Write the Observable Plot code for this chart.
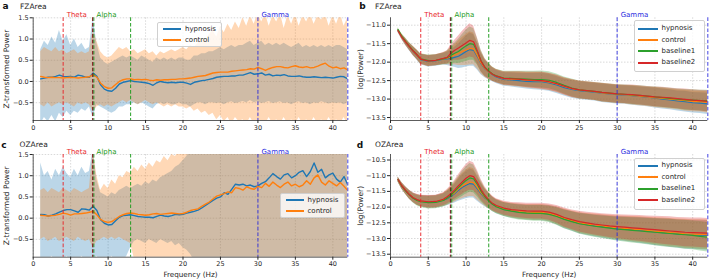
<!DOCTYPE html>
<html><head><meta charset="utf-8">
<script src="https://cdn.jsdelivr.net/npm/d3@7"></script>
<script src="https://cdn.jsdelivr.net/npm/@observablehq/plot@0.6"></script>
<style>
body{margin:0;background:#fff;}
#fig{position:relative;width:709px;height:280px;overflow:hidden;font-family:"DejaVu Sans",sans-serif;background:#fff;}
.panel{position:absolute;}
.legend{position:absolute;box-sizing:border-box;background:rgba(255,255,255,0.8);border:0.8px solid #d0d0d0;border-radius:2px;}
.legend .sw{position:absolute;height:2px;}
.legend .lb{position:absolute;font-size:7px;line-height:7px;color:#262626;white-space:nowrap;transform:translateY(-50%);}
</style></head>
<body><div id="fig"></div>
<script>
// ---------- data ----------
const freqA = d3.range(1, 42.001, 0.5); // 0.5 Hz bins, panels a & c
const freqB = [1,1.5,2,2.5,3,3.5,4,5,6,7,7.5,8,8.5,9,9.5,10,10.5,11,11.5,12,12.5,13,13.5,14,15,16,17,18,19,20,21,22,23,24,25,26,27,28,29,30,31,32,33,34,35,36,37,38,39,40,41,42];
const xTicks = [0,5,10,15,20,25,30,35,40];
const zTicks = [-0.5,0,0.5,1,1.5];
const logTicksB = [-13.5,-13,-12.5,-12,-11.5,-11];
const logTicksD = [-13.5,-13,-12.5,-12,-11.5,-11,-10.5];

const bandNames = ["Theta","Alpha","Gamma"];
const bandLo = [4,8,30];
const bandHi = [8,13,42];
const bandColors = ["#e8262a","#1a9a1a","#2a2ae0"];

const seriesNames = ["hypnosis","control","baseline1","baseline2"];
const seriesColors = ["#1f77b4","#ff7f0e","#2ca02c","#d62728"];

// panel a (FZArea, z-transformed)
const hypA = [0.06,0.08,0.10,0.10,0.12,0.15,0.12,0.11,0.12,0.10, 0.15,0.13,0.10,0.10,0.20,0.12,-0.08,-0.18,-0.22,-0.23, -0.16,-0.06,-0.02,0.00,0.02,0.00,-0.01,-0.02,-0.03,-0.05, -0.09,-0.03,0.00,-0.02,-0.03,-0.02,-0.03,-0.02,-0.02,-0.04, -0.07,-0.02,0.00,0.02,0.03,0.05,0.07,0.10,0.11,0.12, 0.12,0.13,0.13,0.15,0.15,0.18,0.21,0.17,0.18,0.20, 0.15,0.17,0.13,0.15,0.14,0.16,0.13,0.12,0.12,0.13, 0.11,0.10,0.10,0.11,0.10,0.09,0.10,0.09,0.08,0.10, 0.12,0.11,0.06];
const ctlA = [0.12,0.10,0.09,0.10,0.09,0.09,0.08,0.09,0.10,0.09, 0.08,0.09,0.10,0.11,0.16,0.10,-0.04,-0.12,-0.16,-0.15, -0.07,0.00,0.04,0.06,0.06,0.04,0.05,0.04,0.05,0.03, 0.02,0.04,0.03,0.04,0.04,0.05,0.05,0.06,0.06,0.07, 0.08,0.10,0.12,0.13,0.14,0.17,0.20,0.21,0.22,0.22, 0.22,0.24,0.25,0.26,0.27,0.28,0.30,0.29,0.33,0.30, 0.26,0.30,0.33,0.35,0.35,0.33,0.32,0.35,0.37,0.34, 0.33,0.35,0.32,0.33,0.36,0.40,0.43,0.36,0.32,0.34, 0.30,0.32,0.27];
const hypAHi = [0.75,0.95,0.85,1.05,0.90,1.20,0.95,1.10,0.85,1.00, 0.80,0.90,0.75,0.80,1.50,0.90,0.55,0.45,0.40,0.45, 0.50,0.55,0.60,0.55,0.60,0.55,0.50,0.60,0.55,0.50, 0.45,0.55,0.50,0.55,0.50,0.55,0.50,0.55,0.55,0.50, 0.50,0.60,0.60,0.65,0.65,0.70,0.70,0.75,0.80,0.75, 0.80,0.85,0.80,0.85,0.85,0.90,0.95,0.85,0.90,0.95, 0.85,0.90,0.85,0.90,0.85,0.90,0.85,0.80,0.85,0.90, 0.80,0.85,0.80,0.85,0.80,0.85,0.80,0.85,0.80,0.85, 0.85,0.80,0.75];
const hypALo = [-1.00,-0.85,-0.95,-0.80,-0.95,-0.75,-0.85,-0.70,-0.80,-0.70, -0.75,-0.65,-0.70,-0.60,-0.85,-0.55,-0.60,-0.65,-0.70,-0.75, -0.70,-0.60,-0.60,-0.55,-0.55,-0.50,-0.55,-0.50,-0.55,-0.60, -0.65,-0.55,-0.50,-0.55,-0.50,-0.55,-0.55,-0.50,-0.55,-0.55, -0.60,-0.55,-0.50,-0.50,-0.55,-0.50,-0.50,-0.52,-0.50,-0.55, -0.50,-0.48,-0.52,-0.50,-0.47,-0.50,-0.45,-0.50,-0.48,-0.52, -0.50,-0.47,-0.52,-0.50,-0.48,-0.52,-0.50,-0.55,-0.50,-0.48, -0.52,-0.50,-0.55,-0.50,-0.52,-0.48,-0.50,-0.53,-0.50,-0.52, -0.50,-0.55,-0.50];
const ctlAHi = [0.70,0.80,0.75,0.70,0.80,0.70,0.75,0.65,0.70,0.75, 0.65,0.70,0.65,0.70,1.20,0.95,0.70,0.60,0.55,0.60, 0.70,0.80,0.75,0.80,0.70,0.75,0.65,0.70,0.75,0.65, 0.70,0.60,0.70,0.65,0.70,0.75,0.70,0.75,0.80,0.75, 0.85,0.80,0.90,1.00,0.95,1.10,1.20,1.05,1.30,1.15, 1.35,1.20,1.40,1.25,1.50,1.30,1.55,1.35,1.60,1.40, 1.60,1.30,1.55,1.40,1.60,1.25,1.55,1.35,1.60,1.30, 1.55,1.40,1.60,1.35,1.55,1.45,1.60,1.30,1.55,1.35, 1.60,1.30,1.50];
const ctlALo = [-0.55,-0.60,-0.50,-0.60,-0.55,-0.50,-0.55,-0.50,-0.55,-0.60, -0.50,-0.55,-0.50,-0.55,-0.70,-0.60,-0.55,-0.60,-0.55,-0.60, -0.55,-0.50,-0.45,-0.50,-0.45,-0.50,-0.55,-0.50,-0.45,-0.50, -0.55,-0.50,-0.55,-0.60,-0.55,-0.60,-0.55,-0.60,-0.60,-0.65, -0.60,-0.70,-0.65,-0.75,-0.70,-0.80,-0.75,-0.90,-0.80,-0.95, -0.85,-1.00,-0.85,-0.95,-0.90,-1.00,-0.85,-1.00,-0.90,-0.95, -1.00,-0.85,-1.00,-0.90,-1.00,-0.85,-1.00,-0.90,-1.00,-0.85, -1.00,-0.90,-1.00,-0.85,-1.00,-0.90,-1.00,-0.85,-1.00,-0.90, -1.00,-0.85,-1.00];

// panel c (OZArea, z-transformed)
const hypC = [0.09,0.08,0.05,0.07,0.10,0.14,0.18,0.20,0.20,0.17, 0.14,0.22,0.21,0.19,0.28,0.18,-0.04,-0.12,-0.16,-0.15, -0.06,0.02,0.06,0.07,0.08,0.06,0.04,0.03,0.02,0.02, 0.01,0.04,0.07,0.05,0.04,0.06,0.09,0.08,0.09,0.12, 0.14,0.16,0.19,0.24,0.30,0.36,0.42,0.47,0.50,0.60, 0.56,0.68,0.80,0.78,0.80,0.76,0.78,0.74,0.76,0.82, 0.86,0.95,1.05,0.98,0.92,1.02,1.05,0.95,1.00,1.08, 1.12,0.98,1.10,1.30,1.08,1.15,0.95,1.02,1.06,0.92, 0.85,0.98,0.78];
const ctlC = [0.07,0.06,0.05,0.06,0.07,0.09,0.12,0.10,0.07,0.10, 0.10,0.11,0.12,0.14,0.16,0.08,-0.03,-0.08,-0.10,-0.08, -0.02,0.04,0.08,0.11,0.12,0.11,0.09,0.08,0.07,0.08, 0.10,0.11,0.09,0.10,0.11,0.12,0.11,0.10,0.11,0.14, 0.18,0.20,0.22,0.28,0.33,0.38,0.45,0.52,0.55,0.58, 0.62,0.60,0.72,0.70,0.66,0.74,0.70,0.68,0.75,0.72, 0.82,0.75,0.85,0.78,0.72,0.80,0.85,0.76,0.80,0.74, 0.78,0.88,0.80,0.95,1.02,0.85,0.78,0.88,0.82,0.76, 0.84,0.75,0.65];
const hypCHi = [1.30,1.00,1.10,0.90,1.15,1.00,1.20,1.05,0.95,1.15, 1.00,1.20,1.05,1.10,1.60,0.90,0.60,0.55,0.50,0.60, 0.55,0.65,0.70,0.75,0.70,0.75,0.80,0.75,0.85,0.80, 0.90,0.85,0.95,1.00,1.05,1.10,1.20,1.25,1.35,1.45, 1.60,1.70,1.70,1.70,1.70,1.70,1.70,1.70,1.70,1.70, 1.70,1.70,1.70,1.70,1.70,1.70,1.70,1.70,1.70,1.70, 1.70,1.70,1.70,1.70,1.70,1.70,1.70,1.70,1.70,1.70, 1.70,1.70,1.70,1.70,1.70,1.70,1.70,1.70,1.70,1.70, 1.70,1.70,1.70];
const hypCLo = [-1.00,-0.95,-1.00,-0.90,-1.00,-0.95,-1.00,-0.90,-1.00,-0.95, -1.00,-0.90,-1.00,-0.95,-1.00,-0.90,-1.00,-0.95,-1.00,-0.90, -1.00,-0.95,-1.00,-0.90,-0.70,-0.55,-0.50,-0.55,-0.60,-0.50, -0.55,-0.60,-0.50,-0.55,-0.60,-0.55,-0.65,-0.60,-0.70,-0.75, -0.85,-1.00,-1.00,-1.00,-1.00,-1.00,-1.00,-1.00,-1.00,-1.00, -1.00,-1.00,-1.00,-1.00,-1.00,-1.00,-1.00,-1.00,-1.00,-1.00, -1.00,-1.00,-1.00,-1.00,-1.00,-1.00,-1.00,-1.00,-1.00,-1.00, -1.00,-1.00,-1.00,-1.00,-1.00,-1.00,-1.00,-1.00,-1.00,-1.00, -1.00,-1.00,-1.00];
const ctlCHi = [0.65,0.70,0.60,0.70,0.65,0.60,0.70,0.65,0.60,0.70, 0.65,0.60,0.65,0.70,1.60,1.00,0.65,0.80,0.70,0.90, 0.80,1.00,0.95,1.10,1.05,1.20,1.10,1.25,1.15,1.30, 1.20,1.35,1.30,1.45,1.35,1.50,1.45,1.60,1.70,1.70, 1.70,1.70,1.70,1.70,1.70,1.70,1.70,1.70,1.70,1.70, 1.70,1.70,1.70,1.70,1.70,1.70,1.70,1.70,1.70,1.70, 1.70,1.70,1.70,1.70,1.70,1.70,1.70,1.70,1.70,1.70, 1.70,1.70,1.70,1.70,1.70,1.70,1.70,1.70,1.70,1.70, 1.70,1.70,1.70];
const ctlCLo = [-0.50,-0.45,-0.55,-0.50,-0.45,-0.55,-0.50,-0.45,-0.50,-0.55, -0.45,-0.50,-0.55,-0.50,-0.70,-0.55,-0.50,-0.45,-0.50,-0.45, -0.50,-0.45,-0.50,-0.55,-0.60,-0.95,-1.00,-1.00,-1.00,-1.00, -1.00,-1.00,-1.00,-1.00,-1.00,-1.00,-1.00,-1.00,-1.00,-1.00, -1.00,-1.00,-1.00,-1.00,-1.00,-1.00,-1.00,-1.00,-1.00,-1.00, -1.00,-1.00,-1.00,-1.00,-1.00,-1.00,-1.00,-1.00,-1.00,-1.00, -1.00,-1.00,-1.00,-1.00,-1.00,-1.00,-1.00,-1.00,-1.00,-1.00, -1.00,-1.00,-1.00,-1.00,-1.00,-1.00,-1.00,-1.00,-1.00,-1.00, -1.00,-1.00,-1.00];

// panel b (FZArea, log power) on freqB
const hypB = [-11.15,-11.32,-11.46,-11.59,-11.71,-11.81,-11.93,-11.98,-11.96,-11.92,-11.91,-11.90,-11.87,-11.84,-11.78,-11.71,-11.66,-11.68,-11.85,-12.05,-12.18,-12.27,-12.34,-12.40,-12.47,-12.48,-12.50,-12.52,-12.53,-12.53,-12.56,-12.62,-12.69,-12.74,-12.77,-12.79,-12.81,-12.84,-12.86,-12.88,-12.89,-12.91,-12.93,-12.95,-12.97,-13.00,-13.02,-13.05,-13.07,-13.10,-13.11,-13.13];
const ctlB = [-11.14,-11.31,-11.45,-11.58,-11.70,-11.80,-11.92,-11.97,-11.95,-11.91,-11.89,-11.85,-11.80,-11.76,-11.71,-11.67,-11.63,-11.64,-11.82,-12.03,-12.17,-12.26,-12.33,-12.38,-12.45,-12.46,-12.47,-12.49,-12.50,-12.51,-12.54,-12.59,-12.66,-12.72,-12.76,-12.78,-12.80,-12.83,-12.85,-12.87,-12.88,-12.90,-12.92,-12.94,-12.96,-12.98,-13.00,-13.02,-13.04,-13.06,-13.07,-13.09];
const base1B = [-11.12,-11.30,-11.44,-11.57,-11.69,-11.80,-11.91,-11.96,-11.95,-11.91,-11.88,-11.82,-11.76,-11.71,-11.63,-11.56,-11.50,-11.52,-11.72,-11.97,-12.14,-12.24,-12.32,-12.37,-12.43,-12.44,-12.45,-12.46,-12.47,-12.47,-12.49,-12.55,-12.63,-12.70,-12.75,-12.77,-12.79,-12.82,-12.84,-12.86,-12.87,-12.89,-12.90,-12.92,-12.94,-12.96,-12.98,-13.00,-13.02,-13.03,-13.04,-13.05];
const base2B = [-11.15,-11.32,-11.45,-11.58,-11.70,-11.80,-11.92,-11.97,-11.95,-11.90,-11.87,-11.76,-11.68,-11.62,-11.55,-11.48,-11.41,-11.45,-11.70,-11.98,-12.15,-12.25,-12.33,-12.38,-12.44,-12.45,-12.46,-12.48,-12.49,-12.50,-12.53,-12.58,-12.65,-12.71,-12.75,-12.77,-12.79,-12.82,-12.84,-12.86,-12.87,-12.88,-12.90,-12.92,-12.94,-12.95,-12.97,-12.99,-13.01,-13.03,-13.04,-13.06];
const sdB = [0.05,0.07,0.09,0.10,0.12,0.13,0.14,0.15,0.15,0.16,0.18,0.22,0.27,0.33,0.38,0.42,0.45,0.43,0.36,0.29,0.24,0.21,0.19,0.18,0.18,0.19,0.20,0.21,0.22,0.23,0.23,0.23,0.23,0.24,0.24,0.24,0.24,0.25,0.25,0.25,0.25,0.26,0.26,0.26,0.27,0.27,0.27,0.27,0.28,0.28,0.28,0.29];

// panel d (OZArea, log power) on freqB
const hypD = [-11.13,-11.32,-11.47,-11.60,-11.70,-11.77,-11.81,-11.84,-11.83,-11.78,-11.73,-11.66,-11.57,-11.46,-11.37,-11.30,-11.25,-11.27,-11.42,-11.58,-11.71,-11.81,-11.91,-11.98,-12.07,-12.12,-12.15,-12.17,-12.18,-12.18,-12.21,-12.28,-12.38,-12.45,-12.52,-12.56,-12.59,-12.62,-12.65,-12.68,-12.70,-12.72,-12.74,-12.76,-12.79,-12.81,-12.83,-12.85,-12.87,-12.88,-12.89,-12.90];
const ctlD = [-11.13,-11.32,-11.47,-11.60,-11.70,-11.77,-11.81,-11.84,-11.83,-11.77,-11.71,-11.63,-11.54,-11.42,-11.33,-11.26,-11.20,-11.22,-11.38,-11.55,-11.69,-11.80,-11.90,-11.97,-12.06,-12.11,-12.14,-12.16,-12.17,-12.17,-12.20,-12.27,-12.36,-12.43,-12.50,-12.54,-12.57,-12.60,-12.63,-12.66,-12.68,-12.70,-12.72,-12.74,-12.77,-12.79,-12.81,-12.83,-12.85,-12.86,-12.87,-12.88];
const base1D = [-11.12,-11.33,-11.48,-11.61,-11.72,-11.79,-11.83,-11.86,-11.85,-11.79,-11.71,-11.62,-11.50,-11.38,-11.26,-11.15,-11.07,-11.10,-11.28,-11.50,-11.67,-11.80,-11.91,-11.99,-12.08,-12.13,-12.17,-12.19,-12.20,-12.20,-12.23,-12.30,-12.39,-12.46,-12.53,-12.57,-12.61,-12.64,-12.67,-12.70,-12.72,-12.74,-12.76,-12.78,-12.80,-12.82,-12.84,-12.86,-12.88,-12.90,-12.93,-12.96];
const base2D = [-11.12,-11.32,-11.47,-11.60,-11.70,-11.76,-11.80,-11.83,-11.82,-11.75,-11.67,-11.57,-11.45,-11.32,-11.20,-11.08,-11.00,-11.03,-11.22,-11.45,-11.63,-11.77,-11.88,-11.95,-12.03,-12.08,-12.10,-12.12,-12.13,-12.13,-12.16,-12.23,-12.33,-12.40,-12.46,-12.50,-12.54,-12.57,-12.60,-12.62,-12.64,-12.66,-12.68,-12.70,-12.72,-12.74,-12.76,-12.78,-12.80,-12.81,-12.82,-12.83];
const sdD = [0.08,0.10,0.12,0.14,0.15,0.17,0.18,0.20,0.20,0.21,0.23,0.26,0.30,0.35,0.40,0.43,0.46,0.44,0.39,0.33,0.28,0.25,0.23,0.22,0.22,0.23,0.24,0.24,0.25,0.25,0.26,0.28,0.30,0.31,0.33,0.34,0.35,0.36,0.37,0.38,0.39,0.40,0.41,0.42,0.43,0.44,0.45,0.45,0.46,0.46,0.47,0.47];

// ---------- build tables ----------
function rowsZ(freq, mean, lo, hi) { return freq.map((f, i) => ({f, v: mean[i], lo: lo[i], hi: hi[i]})); }
function rowsLog(freq, mean, sd) { return freq.map((f, i) => ({f, v: mean[i], lo: mean[i] - sd[i], hi: mean[i] + sd[i]})); }

const seriesA = [
  {name: seriesNames[0], color: seriesColors[0], rows: rowsZ(freqA, hypA, hypALo, hypAHi)},
  {name: seriesNames[1], color: seriesColors[1], rows: rowsZ(freqA, ctlA, ctlALo, ctlAHi)}
];
const seriesC = [
  {name: seriesNames[0], color: seriesColors[0], rows: rowsZ(freqA, hypC, hypCLo, hypCHi)},
  {name: seriesNames[1], color: seriesColors[1], rows: rowsZ(freqA, ctlC, ctlCLo, ctlCHi)}
];
const seriesB = [hypB, ctlB, base1B, base2B].map((m, i) => ({name: seriesNames[i], color: seriesColors[i], rows: rowsLog(freqB, m, sdB)}));
const seriesD = [hypD, ctlD, base1D, base2D].map((m, i) => ({name: seriesNames[i], color: seriesColors[i], rows: rowsLog(freqB, m, sdD)}));

const bandLabels = bandNames.map((n, i) => ({x: bandLo[i], name: n, color: bandColors[i]}));

// ---------- panel ----------
function makePanel(cfg) {
  const dash = "3.6,2";
  const gridStyle = {stroke: "#b8b8b8", strokeOpacity: 0.9, strokeWidth: 0.6, strokeDasharray: "1.5,1.5"};
  const marks = [
    Plot.gridX({ticks: xTicks, ...gridStyle}),
    Plot.gridY({ticks: cfg.yTicks, ...gridStyle})
  ];
  for (const s of cfg.series) marks.push(Plot.areaY(s.rows, {x: "f", y1: "lo", y2: "hi", fill: s.color, fillOpacity: 0.3, clip: true}));
  for (const s of cfg.series) marks.push(Plot.lineY(s.rows, {x: "f", y: "v", stroke: s.color, strokeWidth: cfg.lineWidth, clip: true}));
  // band boundaries
  marks.push(Plot.ruleX([bandLo[0]], {stroke: bandColors[0], strokeDasharray: dash, strokeWidth: 1.1, strokeOpacity: 0.85}));
  marks.push(Plot.ruleX([bandHi[0]], {stroke: bandColors[0], strokeDasharray: dash, strokeWidth: 1.1, strokeOpacity: 0.85, dx: -0.6}));
  marks.push(Plot.ruleX([bandLo[1]], {stroke: "#1a1a1a", strokeDasharray: dash, strokeWidth: 1.1, strokeOpacity: 0.7, dx: -0.2}));
  marks.push(Plot.ruleX([bandLo[1]], {stroke: bandColors[1], strokeDasharray: dash, strokeWidth: 0.9, strokeOpacity: 0.85, dx: 0.8}));
  marks.push(Plot.ruleX([bandHi[1]], {stroke: bandColors[1], strokeDasharray: dash, strokeWidth: 1.1, strokeOpacity: 0.85}));
  marks.push(Plot.ruleX([bandLo[2], bandHi[2]], {stroke: bandColors[2], strokeDasharray: dash, strokeWidth: 1.1, strokeOpacity: 0.8}));
  marks.push(Plot.text(bandLabels, {x: "x", text: "name", fill: "color", frameAnchor: "top", textAnchor: "start", lineAnchor: "bottom", dx: 3.5, dy: -0.5, fontSize: 7}));
  // spines
  marks.push(Plot.ruleX([0], {stroke: "#333", strokeWidth: 0.8}));
  marks.push(Plot.ruleY([cfg.yDomain[0]], {stroke: "#333", strokeWidth: 0.8}));
  // axes
  marks.push(Plot.axisX({ticks: xTicks, tickSize: 3, tickPadding: 1.5, label: null, fontSize: 6.5}));
  marks.push(Plot.axisY({ticks: cfg.yTicks, tickFormat: d3.format(".1f"), tickSize: 3, tickPadding: 1.5, label: null, fontSize: 6.5}));
  // labels
  marks.push(Plot.text([cfg.ylabel], {frameAnchor: "left", dx: -cfg.ylabelOffset, rotate: -90, fontSize: 7.5, textAnchor: "middle", lineAnchor: "middle", fill: "#262626"}));
  marks.push(Plot.text([cfg.letter], {frameAnchor: "top-left", dx: cfg.letterX - cfg.mL, dy: cfg.headY - cfg.mT, fontWeight: "bold", fontSize: 9, textAnchor: "middle", lineAnchor: "middle", fill: "#111"}));
  marks.push(Plot.text([cfg.area], {frameAnchor: "top-left", dx: cfg.areaX - cfg.mL, dy: cfg.headY - cfg.mT, fontSize: 7.5, textAnchor: "start", lineAnchor: "middle", fill: "#262626"}));
  if (cfg.xlabel) marks.push(Plot.text([cfg.xlabel], {frameAnchor: "bottom", dy: 17.3, fontSize: 7.2, textAnchor: "middle", lineAnchor: "middle", fill: "#262626"}));

  const svg = Plot.plot({
    width: cfg.w, height: cfg.h,
    marginLeft: cfg.mL, marginRight: cfg.mR, marginTop: cfg.mT, marginBottom: cfg.mB,
    x: {domain: [0, 42]},
    y: {domain: cfg.yDomain},
    color: {type: "identity"},
    style: {fontFamily: "DejaVu Sans, sans-serif", fontSize: "6.5px", color: "#262626", background: "transparent", overflow: "visible"},
    marks
  });
  svg.classList.add("panel");
  svg.style.left = cfg.left + "px";
  svg.style.top = cfg.top + "px";
  return svg;
}

function makeLegend(cfg) {
  const box = document.createElement("div");
  box.className = "legend";
  Object.assign(box.style, {left: cfg.left + "px", top: cfg.top + "px", width: cfg.w + "px", height: cfg.h + "px"});
  cfg.series.forEach((s, i) => {
    const y = cfg.row0 + i * cfg.step;
    const sw = document.createElement("div");
    sw.className = "sw";
    Object.assign(sw.style, {left: cfg.swX + "px", width: cfg.swW + "px", top: Math.round(y - 1) + "px", background: s.color});
    const lb = document.createElement("div");
    lb.className = "lb";
    Object.assign(lb.style, {left: cfg.txtX + "px", top: y + "px"});
    lb.textContent = s.name;
    box.appendChild(sw); box.appendChild(lb);
  });
  return box;
}

const fig = document.getElementById("fig");
fig.appendChild(makePanel({left: 0, top: 0, w: 355, h: 140, mL: 32.7, mR: 7.7, mT: 17.3, mB: 20,
  yDomain: [-0.92, 1.5], yTicks: zTicks, series: seriesA, lineWidth: 1.4,
  ylabel: "Z-transformed Power", ylabelOffset: 27, letter: "a", letterX: 5, area: "FZArea", areaX: 19.5, headY: 6}));
fig.appendChild(makePanel({left: 355, top: 0, w: 354, h: 140, mL: 35, mR: 1.7, mT: 17.3, mB: 20,
  yDomain: [-13.58, -10.80], yTicks: logTicksB, series: seriesB, lineWidth: 1.2,
  ylabel: "log(Power)", ylabelOffset: 30, letter: "b", letterX: 7, area: "FZArea", areaX: 19.5, headY: 6}));
fig.appendChild(makePanel({left: 0, top: 140, w: 355, h: 140, mL: 32.7, mR: 7.7, mT: 14, mB: 23.3,
  yDomain: [-0.92, 1.5], yTicks: zTicks, series: seriesC, lineWidth: 1.4,
  ylabel: "Z-transformed Power", ylabelOffset: 27, letter: "c", letterX: 3.5, area: "OZArea", areaX: 19, headY: 4.5, xlabel: "Frequency (Hz)"}));
fig.appendChild(makePanel({left: 355, top: 140, w: 354, h: 140, mL: 35, mR: 1.7, mT: 14, mB: 23.3,
  yDomain: [-13.595, -10.325], yTicks: logTicksD, series: seriesD, lineWidth: 1.2,
  ylabel: "log(Power)", ylabelOffset: 30, letter: "d", letterX: 4.5, area: "OZArea", areaX: 19.5, headY: 4.5, xlabel: "Frequency (Hz)"}));

fig.appendChild(makeLegend({left: 157, top: 21.7, w: 65, h: 25, row0: 6.3, step: 11, swX: 4.5, swW: 18.5, txtX: 27, series: seriesA}));
fig.appendChild(makeLegend({left: 280, top: 193, w: 64.5, h: 25, row0: 6.2, step: 11, swX: 4.5, swW: 18.5, txtX: 26.5, series: seriesC}));
fig.appendChild(makeLegend({left: 634, top: 19.5, w: 71, h: 52, row0: 7.6, step: 11.4, swX: 3, swW: 19.5, txtX: 26.5, series: seriesB}));
fig.appendChild(makeLegend({left: 634, top: 157.5, w: 71, h: 52, row0: 6.6, step: 11.5, swX: 3, swW: 19.5, txtX: 26.5, series: seriesD}));
</script>
</body></html>
